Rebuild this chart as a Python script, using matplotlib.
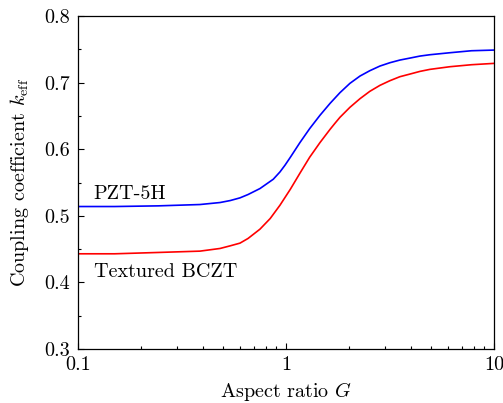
import numpy as np
import matplotlib
matplotlib.use("Agg")
from matplotlib import pyplot as plt
from matplotlib.ticker import MultipleLocator, LogLocator, NullFormatter

# valeurs
G_pzt = [0.10, 0.15, 0.243, 0.386, 0.482, 0.54, 0.601, 0.657, 0.75, 0.869, 0.936, 0.989,
         1.05, 1.167, 1.30, 1.457, 1.63, 1.818, 2.03, 2.27, 2.53, 2.83, 3.16, 3.53,
         3.95, 4.41, 4.92, 6.14, 7.8, 10.0]
k_pzt = [0.514, 0.514, 0.515, 0.517, 0.520, 0.523, 0.527, 0.532, 0.541, 0.555, 0.566, 0.576,
         0.588, 0.610, 0.631, 0.651, 0.669, 0.685, 0.699, 0.710, 0.718, 0.725, 0.730, 0.734,
         0.737, 0.740, 0.742, 0.745, 0.748, 0.749]

G_bczt = [0.10, 0.15, 0.243, 0.386, 0.482, 0.54, 0.601, 0.657, 0.75, 0.84, 0.936, 1.05,
          1.167, 1.30, 1.457, 1.63, 1.72, 1.818, 2.03, 2.27, 2.53, 2.83, 3.16, 3.53,
          3.95, 4.41, 4.92, 6.14, 7.8, 10.0]
k_bczt = [0.443, 0.443, 0.445, 0.447, 0.451, 0.455, 0.459, 0.466, 0.480, 0.496, 0.516, 0.540,
          0.564, 0.588, 0.610, 0.630, 0.639, 0.648, 0.663, 0.676, 0.687, 0.696, 0.703, 0.709,
          0.713, 0.717, 0.720, 0.724, 0.727, 0.729]

plt.rcParams['font.family'] = ['cmr10', 'DejaVu Serif']
plt.rcParams['mathtext.fontset'] = 'cm'
plt.rcParams['axes.formatter.use_mathtext'] = True
plt.rcParams['font.size'] = 14.5

fig = plt.figure(figsize=(5.03, 4.03), dpi=100)
ax = fig.add_axes([0.155, 0.134, 0.827, 0.826])

ax.plot(G_pzt, k_pzt, color='#0000ff', lw=1.2, solid_joinstyle='round')
ax.plot(G_bczt, k_bczt, color='#ff0000', lw=1.2, solid_joinstyle='round')

ax.set_xscale('log')
ax.set_xlim(0.1, 10)
ax.set_ylim(0.3, 0.8)
ax.set_xticks([0.1, 1, 10])
ax.set_xticklabels(['0.1', '1', '10'])
ax.xaxis.set_minor_locator(LogLocator(base=10, subs=np.arange(2, 10)))
ax.xaxis.set_minor_formatter(NullFormatter())
ax.yaxis.set_major_locator(MultipleLocator(0.1))
ax.yaxis.set_minor_locator(MultipleLocator(0.05))
ax.yaxis.set_major_formatter(plt.FuncFormatter(lambda v, p: f"{v:.1f}"))

ax.tick_params(which='both', direction='in', top=False, right=False)
ax.tick_params(which='major', length=4, width=0.8)
ax.tick_params(which='minor', length=2.4, width=0.8)
ax.tick_params(axis='x', pad=5)
ax.tick_params(axis='y', pad=6)
for s in ax.spines.values():
    s.set_linewidth(0.9)

ax.text(0.119, 0.525, 'PZT-5H')
ax.text(0.119, 0.408, 'Textured BCZT')

ax.set_xlabel(r'Aspect ratio $G$', labelpad=4.5)
ax.set_ylabel(r'Coupling coefficient $k_{\rm eff}$', labelpad=9)

fig.savefig('out.png', dpi=100)
